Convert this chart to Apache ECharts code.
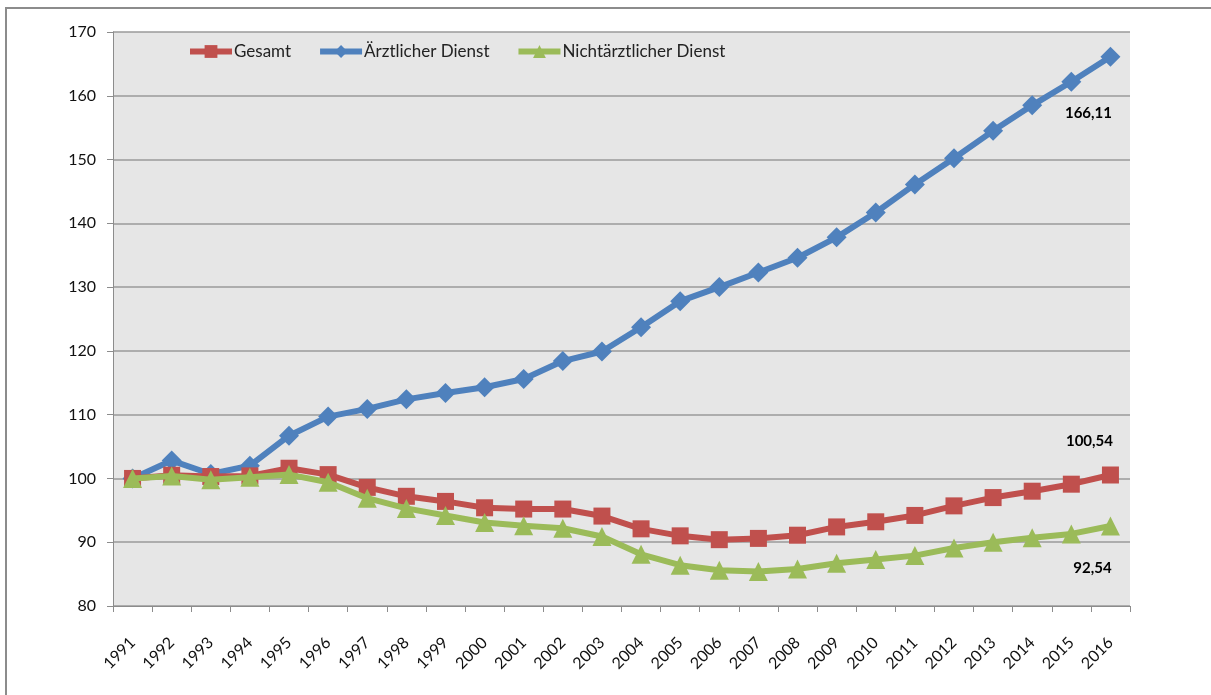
<!DOCTYPE html>
<html>
<head>
<meta charset="utf-8">
<script src="https://cdn.jsdelivr.net/npm/echarts@6/dist/echarts.min.js"></script>
<style>
  html, body { margin: 0; padding: 0; background: #fff; }
  #frame {
    position: absolute; left: 5px; top: 7px; width: 1206px; height: 688px;
    border-left: 2px solid #8c8c8c; border-top: 2px solid #8c8c8c;
  }
  #chart { position: absolute; left: 0; top: 0; width: 1211px; height: 695px; }
</style>
</head>
<body>
<div id="frame"></div>
<div id="chart"></div>
<script>
// Jahre
const years = ["1991","1992","1993","1994","1995","1996","1997","1998","1999","2000","2001","2002","2003",
  "2004","2005","2006","2007","2008","2009","2010","2011","2012","2013","2014","2015","2016"];

// Index 1991 = 100
const gesamt = [100, 100.5, 100.3, 100.4, 101.6, 100.6, 98.6, 97.2, 96.4, 95.4, 95.2, 95.2, 94.1,
  92.1, 91.0, 90.4, 90.6, 91.1, 92.4, 93.2, 94.2, 95.7, 97.0, 98.0, 99.1, 100.54];
const aerztlich = [100, 102.8, 100.7, 102.0, 106.7, 109.7, 110.9, 112.4, 113.4, 114.3, 115.6, 118.4, 119.9,
  123.7, 127.8, 130.0, 132.3, 134.6, 137.8, 141.7, 146.1, 150.2, 154.5, 158.5, 162.2, 166.11];
const nichtaerztlich = [100, 100.4, 99.8, 100.2, 100.6, 99.4, 96.9, 95.3, 94.2, 93.1, 92.6, 92.2, 90.9,
  88.1, 86.4, 85.6, 85.4, 85.8, 86.7, 87.3, 87.9, 89.1, 90.0, 90.7, 91.3, 92.54];

const yTicks = { min: 80, max: 170, interval: 10 };

const font = "Lato, 'Noto Sans', sans-serif";

// nur den letzten Wert beschriften
function withEndLabel(values, offset) {
  return values.map((v, i) => {
    if (i !== values.length - 1) return v;
    return {
      value: v,
      label: {
        show: true,
        position: "inside",
        offset: offset,
        formatter: String(v).replace(".", ","),
        color: "#000",
        fontWeight: "bold",
        fontSize: 15,
        fontFamily: font,
      },
    };
  });
}

const chart = echarts.init(document.getElementById("chart"), null, { renderer: "canvas" });

chart.setOption({
  animation: false,
  textStyle: { fontFamily: font },
  grid: {
    left: 113, top: 32, width: 1017, height: 574,
    show: true, backgroundColor: "#e6e6e6", borderWidth: 0,
  },
  legend: {
    left: 182, top: 38,
    itemWidth: 42, itemHeight: 16, itemGap: 26,
    lineStyle: { width: 6 },
    textStyle: { fontSize: 17, color: "#222", fontFamily: font, padding: [0, 0, 0, -3] },
    data: ["Gesamt", "Ärztlicher Dienst", "Nichtärztlicher Dienst"],
  },
  xAxis: {
    type: "category",
    data: years,
    boundaryGap: true,
    axisLine: { lineStyle: { color: "#8c8c8c", width: 1 } },
    axisTick: { show: true, length: 6, lineStyle: { color: "#8c8c8c" } },
    axisLabel: { rotate: 45, fontSize: 16, color: "#111", margin: 34, interval: 0 },
  },
  yAxis: {
    type: "value",
    min: yTicks.min, max: yTicks.max, interval: yTicks.interval,
    axisLine: { show: true, lineStyle: { color: "#8c8c8c" } },
    axisTick: { show: true, length: 6, lineStyle: { color: "#8c8c8c" } },
    axisLabel: { fontSize: 16, color: "#111", margin: 17 },
    splitLine: { show: true, lineStyle: { color: "#9a9a9a", width: 1.5 } },
  },
  series: [
    {
      name: "Gesamt",
      type: "line",
      data: withEndLabel(gesamt, [-21, -34]),
      symbol: "rect", symbolSize: 17,
      lineStyle: { color: "#c0504d", width: 6 },
      itemStyle: { color: "#c0504d" },
      z: 3,
    },
    {
      name: "Ärztlicher Dienst",
      type: "line",
      data: withEndLabel(aerztlich, [-22, 56]),
      symbol: "diamond", symbolSize: 20,
      lineStyle: { color: "#4f81bd", width: 6 },
      itemStyle: { color: "#4f81bd" },
      z: 2,
    },
    {
      name: "Nichtärztlicher Dienst",
      type: "line",
      data: withEndLabel(nichtaerztlich, [-18, 42]),
      symbol: "triangle", symbolSize: 19,
      lineStyle: { color: "#9bbb59", width: 6 },
      itemStyle: { color: "#9bbb59" },
      z: 4,
    },
  ],
});
</script>
</body>
</html>
